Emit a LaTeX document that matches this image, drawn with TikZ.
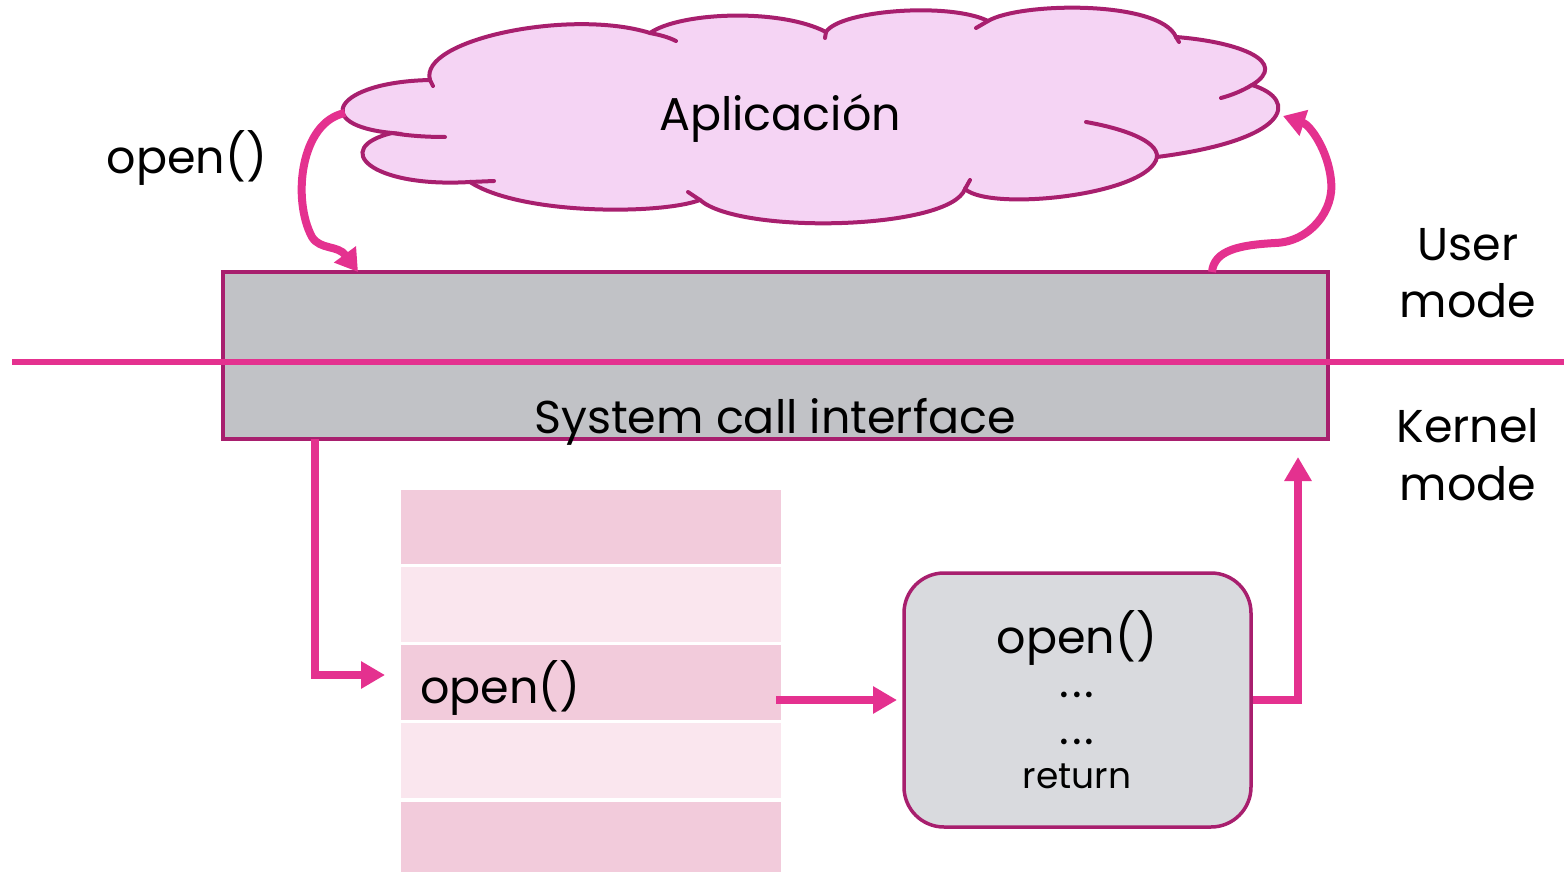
\documentclass[tikz,border=0pt]{standalone}
\usepackage{fontspec}
\setmainfont{Poppins}
\usetikzlibrary{arrows.meta}

\definecolor{arrowpink}{HTML}{E4318F}
\definecolor{edgeplum}{HTML}{A81F6E}
\definecolor{cloudfill}{HTML}{F5D4F4}
\definecolor{ifacegray}{HTML}{C1C2C6}
\definecolor{funcgray}{HTML}{D9DADE}
\definecolor{rowdark}{HTML}{F2CBDB}
\definecolor{rowlight}{HTML}{FAE6EE}

\tikzset{
  arr/.style={draw=arrowpink, line width=8pt, line join=round,
              -{Triangle[length=22pt,width=26pt]}},
  flow/.style={draw=arrowpink, line width=8pt, line join=miter,
               -{Triangle[length=24pt,width=26pt]}},
  lbl/.style={inner sep=0pt, anchor=base, font=\fontsize{46}{52}\selectfont},
  sysbox/.style={draw=edgeplum, line width=3.5pt, fill=ifacegray, inner sep=0pt},
  funcbox/.style={draw=edgeplum, line width=3.5pt, fill=funcgray, inner sep=0pt,
                  rounded corners=40pt},
  row/.style={inner sep=0pt, minimum width=380pt, draw=none},
  cloudline/.style={draw=edgeplum, line width=4pt, line cap=round},
}
\newcommand{\spdots}{.\hspace{3pt}.\hspace{3pt}.}

\begin{document}
\begin{tikzpicture}[x=1pt, y=-1pt]
\useasboundingbox (0,0) rectangle (1564,872);

% --- application cloud -------------------------------------------------
\path[cloudline, fill=cloudfill]
  (430,80) .. controls (418,40) and (570,8) .. (650,33)
  .. controls (680,12) and (780,8) .. (826,32)
  .. controls (840,10) and (950,2) .. (988,21)
  .. controls (1020,2) and (1160,0) .. (1176,37)
  .. controls (1240,42) and (1290,62) .. (1252,85)
  .. controls (1300,100) and (1290,140) .. (1157,157)
  .. controls (1150,195) and (990,212) .. (965,189)
  .. controls (950,230) and (740,235) .. (700,200)
  .. controls (660,215) and (520,215) .. (470,182)
  .. controls (370,188) and (330,148) .. (392,133)
  .. controls (310,125) and (335,82) .. (430,80) -- cycle;
% inner puff strokes
\draw[cloudline] (650,33) .. controls (660,35) and (668,37) .. (676,41);
\draw[cloudline] (430,80) -- (433,86);
\draw[cloudline] (392,133) .. controls (410,136) and (428,137) .. (445,137);
\draw[cloudline] (470,182) -- (494,181);
\draw[cloudline] (700,200) -- (688,192);
\draw[cloudline] (965,189) -- (970,180);
\draw[cloudline] (1157,157) .. controls (1158,140) and (1120,128) .. (1086,122);
\draw[cloudline] (1252,85) .. controls (1242,91) and (1232,95) .. (1221,98);
\draw[cloudline] (1176,37) -- (1179,42);
\draw[cloudline] (988,21) -- (976,28);
\draw[cloudline] (826,32) -- (825,38);
\node[lbl] (app) at (780,131) {Aplicación};

\coordinate (appout) at (345,113);
\coordinate (appin) at (1283,116);

% --- system call interface ----------------------------------------------
\node[sysbox, minimum width=1105pt, minimum height=167pt] (sci) at (775.5,355.5) {};
\node[lbl] (scilbl) at (775,433) {System call interface};
\coordinate (sciin) at (358,272);
\coordinate (sciout) at (1212,272);
\coordinate (scidown) at (315,439);
\coordinate (sciret) at (1298,457);

% user / kernel boundary
\coordinate (bl) at (12,362);
\coordinate (br) at (1564,362);
\draw[arrowpink, line width=6pt] (bl) -- (br);

\node[lbl] (u1) at (1468,260) {User};
\node[lbl] (u2) at (1468,317) {mode};
\node[lbl] (k1) at (1468,442) {Kernel};
\node[lbl] (k2) at (1468,500) {mode};

\node[lbl] (call) at (187,174) {open()};

% --- system call table ---------------------------------------------------
\node[row, fill=rowdark,  minimum height=74pt] (r1) at (591,527) {};
\node[row, fill=rowlight, minimum height=75pt] (r2) at (591,604.5) {};
\node[row, fill=rowdark,  minimum height=75pt] (r3) at (591,682.5) {};
\node[row, fill=rowlight, minimum height=75pt] (r4) at (591,760.5) {};
\node[row, fill=rowdark,  minimum height=72pt] (r5) at (591,838) {};
\node[lbl, anchor=base west] (tab) at (420,703) {open()};
\coordinate (tabin) at (385,675);
\coordinate (tabout) at (776,700);

% --- open() routine --------------------------------------------------------
\node[funcbox, minimum width=347pt, minimum height=254pt] (fn) at (1077.5,700) {};
\node[lbl] (f1) at (1077,653) {open()};
\node[lbl] (f2) at (1077,697) {\spdots};
\node[lbl] (f3) at (1077,744) {\spdots};
\node[lbl, font=\fontsize{36}{40}\selectfont] (f4) at (1077,788) {return};
\coordinate (fnin) at (897,700);

% --- connectors ---------------------------------------------------------
\draw[arr] (appout) .. controls (300,122) and (292,200) .. (312,237)
           .. controls (320,250) and (338,245) .. (sciin);
\draw[arr] (sciout) .. controls (1214,250) and (1240,245) .. (1275,243)
           .. controls (1310,242) and (1335,210) .. (1331,180)
           .. controls (1328,150) and (1310,125) .. (appin);
\draw[flow] (scidown) |- (tabin);
\draw[flow] (tabout) -- (fnin);
\draw[flow] (fn.east) -| (sciret);
\end{tikzpicture}
\end{document}
